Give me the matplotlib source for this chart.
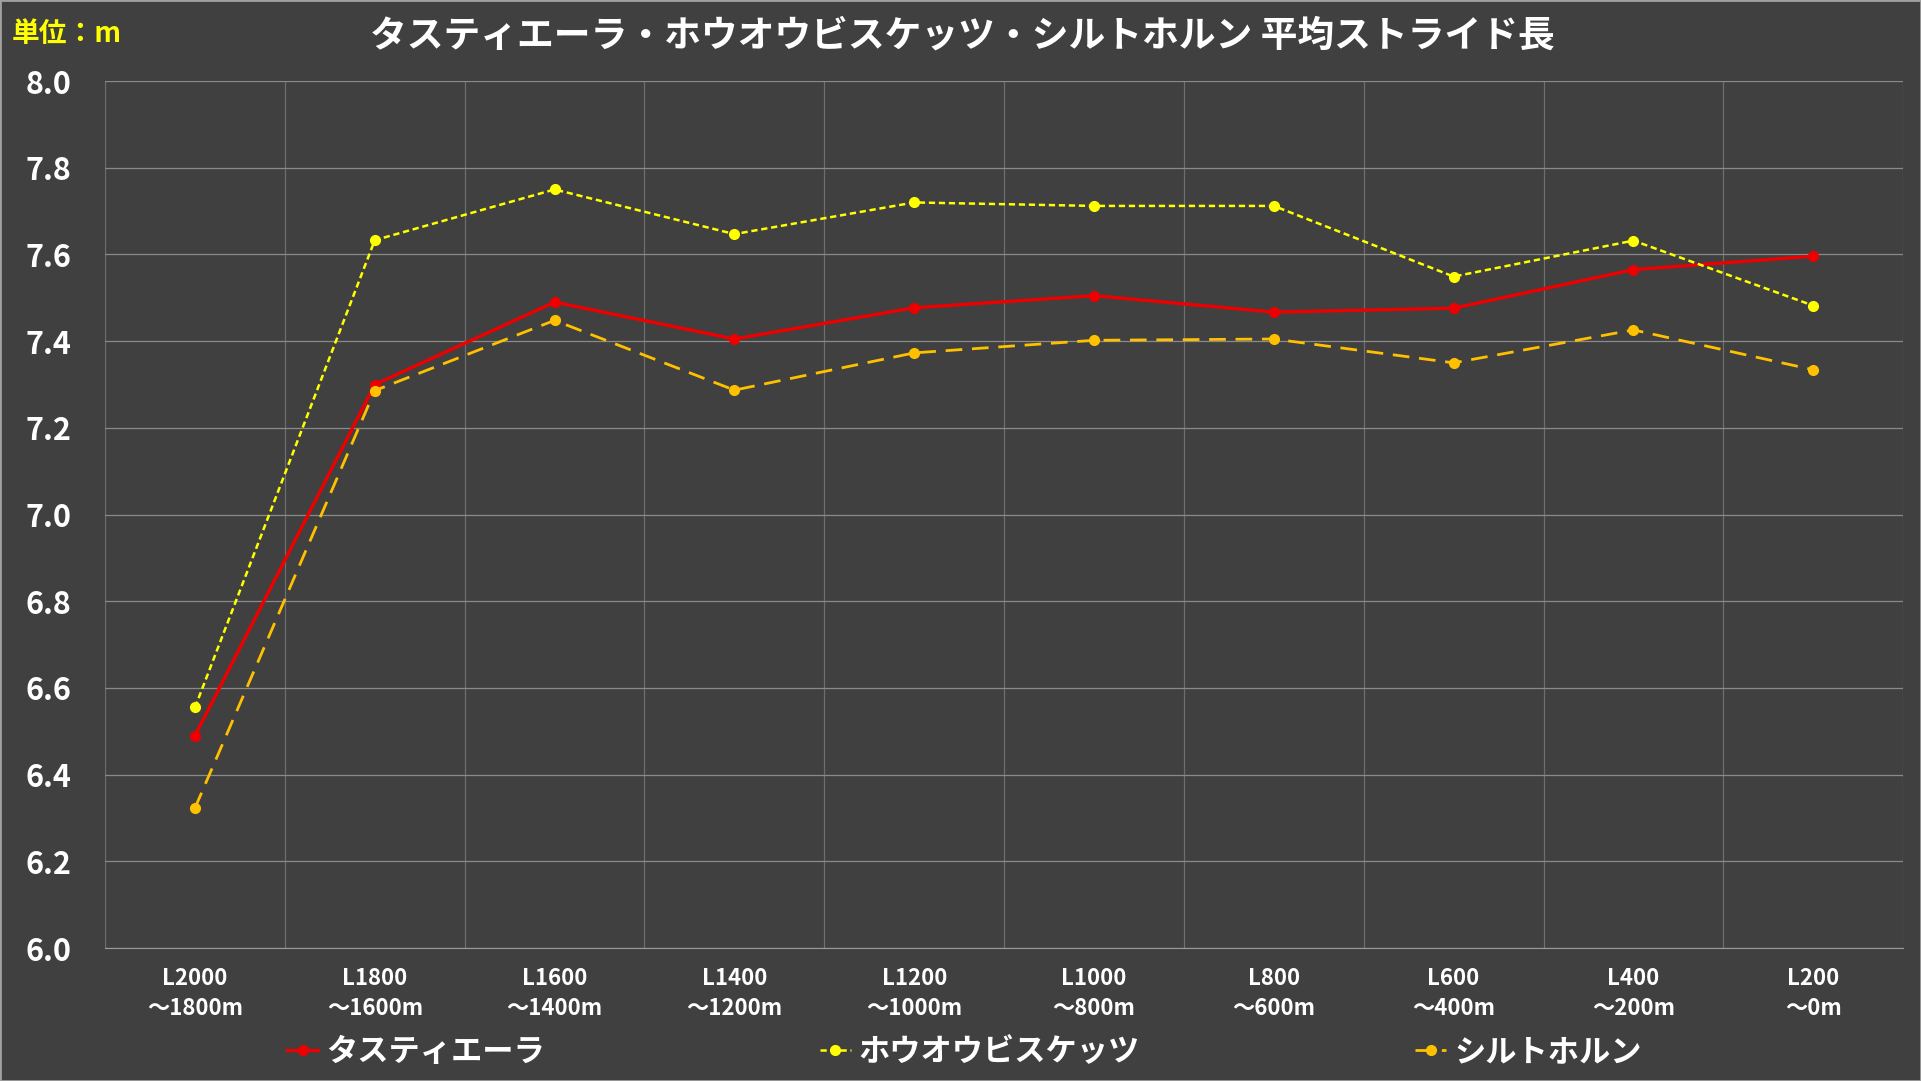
import numpy as np
import matplotlib.pyplot as plt

plt.rcParams['font.family'] = ['Noto Sans CJK JP', 'DejaVu Sans']

sections = ["L2000\n～1800m", "L1800\n～1600m", "L1600\n～1400m", "L1400\n～1200m",
            "L1200\n～1000m", "L1000\n～800m", "L800\n～600m", "L600\n～400m",
            "L400\n～200m", "L200\n～0m"]
tastiera = [6.49, 7.30, 7.49, 7.405, 7.477, 7.505, 7.467, 7.476, 7.565, 7.596]
houou = [6.555, 7.633, 7.75, 7.647, 7.72, 7.712, 7.712, 7.549, 7.632, 7.482]
siltorn = [6.323, 7.286, 7.448, 7.287, 7.373, 7.402, 7.405, 7.35, 7.426, 7.334]

bg = '#404040'
fig = plt.figure(figsize=(19.21, 10.81), dpi=100, facecolor=bg)
ax = fig.add_axes([0.0547, 0.123, 0.936, 0.802])
ax.set_facecolor(bg)

x = np.arange(len(sections))
ax.plot(x, tastiera, color='#EE0000', lw=2.4, marker='o', ms=7, label='タスティエーラ')
ax.plot(x, houou, color='#FFFF00', lw=1.8, ls=(0, (2.5, 1.5)), marker='o', ms=7,
        label='ホウオウビスケッツ')
ax.plot(x, siltorn, color='#FFC000', lw=2.0, ls=(0, (6, 3.5)), marker='o', ms=7,
        label='シルトホルン')

ax.set_xlim(-0.5, len(sections) - 0.5)
ax.set_ylim(6.0, 8.0)
ax.set_yticks(np.arange(6.0, 8.01, 0.2))
ax.set_yticklabels([f"{v:.1f}" for v in np.arange(6.0, 8.01, 0.2)])
ax.set_xticks(x)
ax.set_xticklabels(sections, linespacing=1.35)
ax.set_xticks(np.arange(-0.5, len(sections)), minor=True)

ax.grid(True, axis='y', which='major', color='#8a8a8a', lw=0.9)
ax.grid(True, axis='x', which='minor', color='#6e6e6e', lw=0.9)
ax.tick_params(axis='both', which='both', length=0)
ax.tick_params(axis='y', labelsize=22, labelcolor='white', pad=24)
ax.tick_params(axis='x', labelsize=16, labelcolor='white', pad=14)
for lab in ax.get_xticklabels() + ax.get_yticklabels():
    lab.set_fontweight('bold')
for s in ['top', 'left', 'right']:
    ax.spines[s].set_visible(False)
ax.spines['bottom'].set_color('#9a9a9a')

fig.text(0.501, 0.967, 'タスティエーラ・ホウオウビスケッツ・シルトホルン 平均ストライド長',
         ha='center', va='center', color='white', fontsize=26.5, fontweight='bold')
fig.text(0.006, 0.969, '単位：m', ha='left', va='center', color='#FFFF00',
         fontsize=20, fontweight='bold')

leg = fig.legend(loc='center', bbox_to_anchor=(0.502, 0.027), ncol=3, frameon=False,
                 fontsize=22.5, handlelength=1.0, columnspacing=8.8, handletextpad=0.25)
for t in leg.get_texts():
    t.set_color('white')
    t.set_fontweight('bold')

fig.patches.append(plt.Rectangle((0, 0), 1, 1, transform=fig.transFigure, fill=False,
                                 edgecolor='#a0a0a0', lw=2))

fig.savefig('out.png', dpi=100, facecolor=bg)
